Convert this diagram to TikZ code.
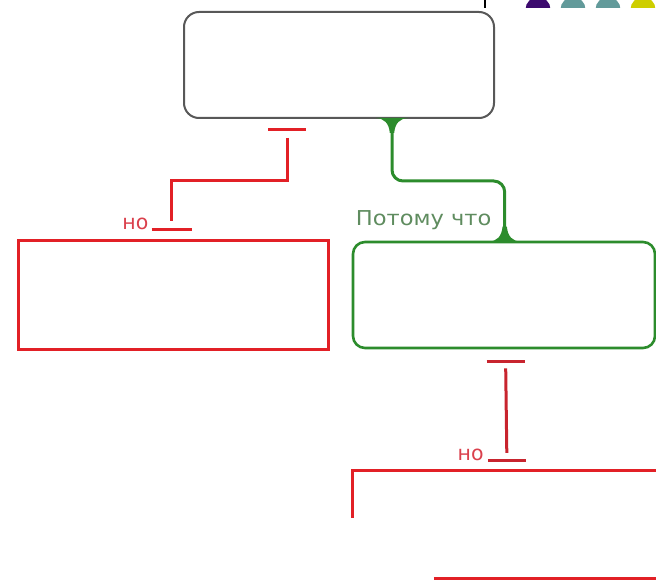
\documentclass[tikz,border=0pt]{standalone}
\usepackage{fontspec}
\setmainfont{DejaVu Sans}
\usetikzlibrary{calc}
\definecolor{boxgray}{RGB}{88,88,88}
\definecolor{linkgreen}{RGB}{44,140,44}
\definecolor{labelgreen}{RGB}{95,140,95}
\definecolor{objred}{RGB}{226,32,38}
\definecolor{objdark}{RGB}{200,36,46}
\definecolor{labelred}{RGB}{218,64,76}
\definecolor{dotpurple}{RGB}{60,10,110}
\definecolor{dotteal}{RGB}{98,154,154}
\definecolor{dotyellow}{RGB}{206,206,0}
\begin{document}
\begin{tikzpicture}[x=1pt,y=-1pt,
  claimbox/.style={draw=boxgray, line width=2pt, rounded corners=15pt, fill=white, inner sep=0pt},
  reasonbox/.style={draw=linkgreen, line width=2.6pt, rounded corners=12pt, fill=white, inner sep=0pt},
  objbox/.style={draw=objred, line width=3pt, fill=white, inner sep=0pt},
  redlink/.style={draw=objred, line width=3pt},
  darklink/.style={draw=objdark, line width=3pt},
  greenlink/.style={draw=linkgreen, line width=3pt, rounded corners=11pt},
  lbl/.style={font=\fontsize{20.5}{24}\selectfont, inner sep=0pt},
  flare/.style={fill=linkgreen}
]
\useasboundingbox (0,0) rectangle (656,580);

% decorations at the top right
\draw[black, line width=1.5pt] (485,0) -- (485,8);
\begin{scope}
  \clip (500,0) rectangle (656,7.5);
  \fill[dotpurple] (538,9.5) circle (12.5);
  \fill[dotteal] (573,9.5) circle (12.5);
  \fill[dotteal] (608,9.5) circle (12.5);
  \fill[dotyellow] (643,9.5) circle (12.5);
\end{scope}

% boxes
\node[claimbox, minimum width=310pt, minimum height=106pt] (claim) at (339,65) {};
\node[objbox, minimum width=310pt, minimum height=108pt] (objL) at (173,295) {};
\node[reasonbox, minimum width=302pt, minimum height=106pt] (reason) at (504,295) {};
\node[inner sep=0pt, minimum width=320pt, minimum height=107pt] (objR) at (513,524.5) {};
\draw[objred, line width=3pt] ($(objR.north west)+(0,47)$) -- (objR.north west) -- ($(objR.north west)+(310,0)$);
\draw[objred, line width=3pt] ($(objR.south west)+(81,0)$) -- ($(objR.south west)+(310,0)$);

% red link: claim -> left objection
\coordinate (a1) at ($(claim.south west)+(104,11)$);
\coordinate (a2) at ($(objL.north west)+(155,-10)$);
\draw[redlink] ($(a1)+(-19,0)$) -- ($(a1)+(19,0)$);
\draw[redlink] ($(a1)+(0,8)$) -- ($(a1)+(0,51)$) -| ($(a2)+(0,-8)$);
\draw[redlink] ($(a2)+(-20,0)$) -- ($(a2)+(20,0)$);
\node[lbl, text=labelred, anchor=east] (no1) at ($(a2)+(-23,-6)$) {но};

% green link: claim -> reason
\coordinate (g1) at ($(claim.south west)+(209,0)$);
\coordinate (g2) at ($(reason.north west)+(153,0)$);
\draw[greenlink] (g1) -- ($(g1)+(0,62)$) -| (g2);
\fill[flare, shift={(g1)}] (-16,-1) .. controls (-8,-0.5) and (-3,4) .. (-2.2,14) -- (2.2,14) .. controls (3,4) and (8,-0.5) .. (16,-1) -- cycle;
\fill[flare, shift={(g2)}] (-16,1) .. controls (-8,0.5) and (-3,-4) .. (-2.2,-14) -- (2.2,-14) .. controls (3,-4) and (8,0.5) .. (16,1) -- cycle;
\node[lbl, text=labelgreen, anchor=base west] (because) at ($(reason.north west)+(4,-15)$) {\scalebox{1.1}[1]{Потому что}};

% red link: reason -> lower objection
\coordinate (b1) at ($(reason.south west)+(154,12)$);
\coordinate (b2) at ($(objR.north west)+(154,-10)$);
\draw[darklink] ($(b1)+(-19,0)$) -- ($(b1)+(19,0)$);
\draw[darklink] ($(b1)+(0,7)$) -- ($(b2)+(0,-8)$);
\draw[darklink] ($(b2)+(-19,0)$) -- ($(b2)+(19,0)$);
\node[lbl, text=labelred, anchor=east] (no2) at ($(b2)+(-23,-6)$) {но};
\end{tikzpicture}
\end{document}
